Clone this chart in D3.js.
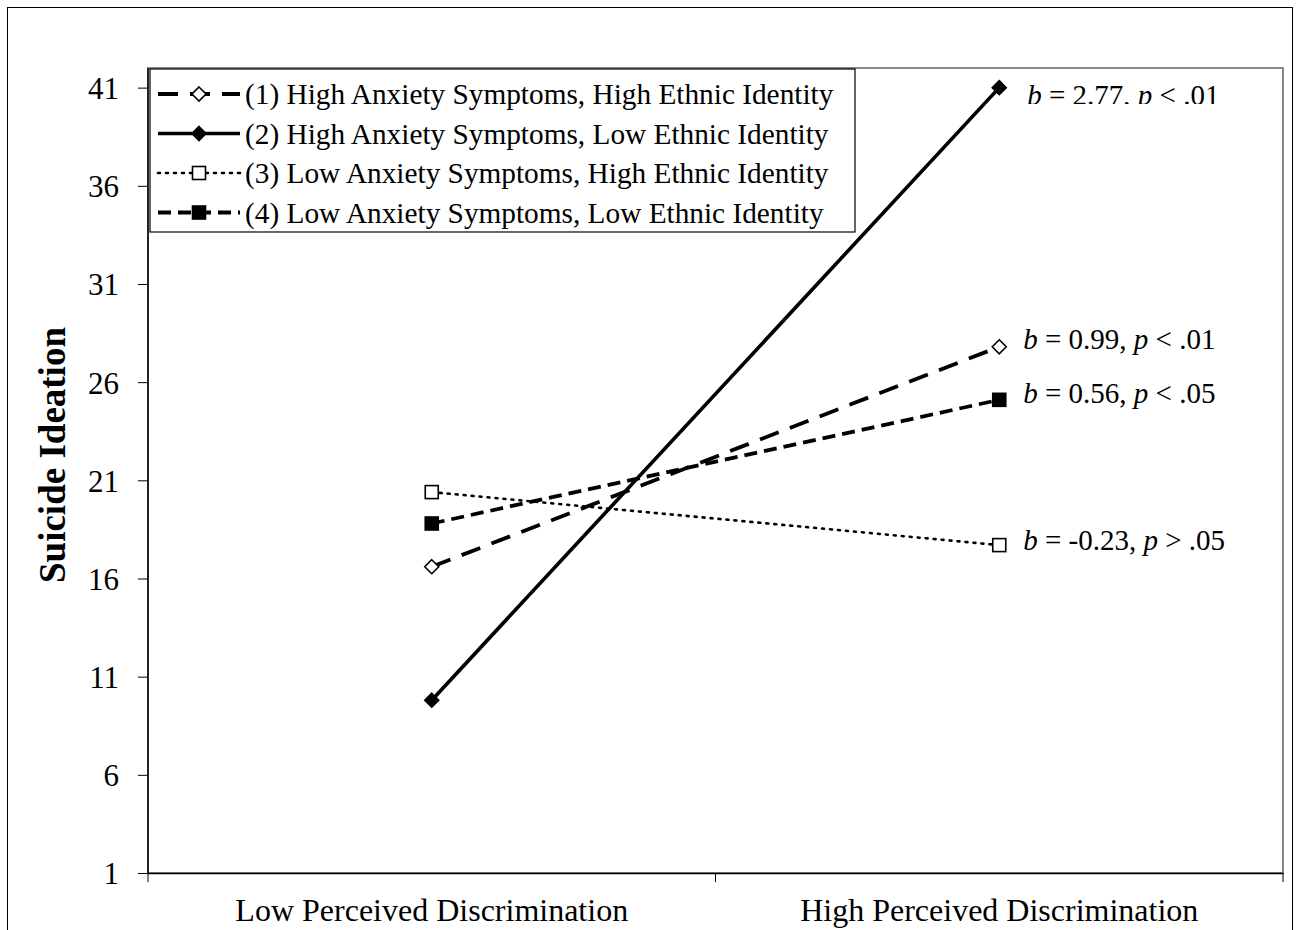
<!DOCTYPE html>
<html>
  <head>
    <meta charset="utf-8">
    <style>
      body { margin: 0; background: #fff; }
      text { font-family: "Liberation Serif", "Times New Roman", serif; fill: #000; }
    </style>
  </head>
  <body>
    <div class="chart"></div>
    <script src="https://cdn.jsdelivr.net/npm/d3@7"></script>
    <script>

var categories = ['Low Perceived Discrimination', 'High Perceived Discrimination'];
var seriesNames = [
  '(1) High Anxiety Symptoms, High Ethnic Identity',
  '(2) High Anxiety Symptoms, Low Ethnic Identity',
  '(3) Low Anxiety Symptoms, High Ethnic Identity',
  '(4) Low Anxiety Symptoms, Low Ethnic Identity'
];
var series1 = [16.6, 27.8];
var series2 = [9.8, 41.0];
var series3 = [20.4, 17.7];
var series4 = [18.8, 25.1];
var slopeLabels = [
  ['0.99', '< .01'],
  ['2.77', '< .01'],
  ['-0.23', '> .05'],
  ['0.56', '< .05']
];
var yTicks = [1, 6, 11, 16, 21, 26, 31, 36, 41];

var width = 1299;
var height = 930;
var margin = { left: 148, top: 68, right: 1283, bottom: 873 };

var styles = [
  { dash: '20,12', width: 3.8, marker: 'diamond', fill: '#fff', labelDy: 2 },
  { dash: null, width: 3.6, marker: 'diamond', fill: '#000', labelDy: 17 },
  { dash: '2,6', width: 2.6, marker: 'square', fill: '#fff', labelDy: 5 },
  { dash: '13,7', width: 3.8, marker: 'square', fill: '#000', labelDy: 3 }
];

var data = [series1, series2, series3, series4].map(function (v, i) {
  return { name: seriesNames[i], values: v, style: styles[i], label: slopeLabels[i] };
});

var x = d3.scaleBand()
    .domain(categories)
    .range([margin.left, margin.right]);

var y = d3.scaleLinear()
    .domain([1, 42])
    .range([margin.bottom, margin.top]);

var svg = d3.select('.chart').append('svg')
    .attr('width', width)
    .attr('height', height);

// outer frame
svg.append('rect')
    .attr('x', 7.5).attr('y', 7.5)
    .attr('width', 1285).attr('height', 940)
    .attr('fill', 'none').attr('stroke', '#000').attr('stroke-width', 1);

// plot area border
svg.append('rect')
    .attr('x', margin.left).attr('y', margin.top)
    .attr('width', margin.right - margin.left).attr('height', margin.bottom - margin.top)
    .attr('fill', 'none').attr('stroke', '#888').attr('stroke-width', 2);

// y axis
var yAxis = svg.append('g')
    .attr('transform', 'translate(' + margin.left + ',0)')
    .call(d3.axisLeft(y).tickValues(yTicks).tickSize(10).tickSizeOuter(0));
yAxis.select('.domain').attr('stroke', '#000').attr('stroke-width', 1.5)
    .attr('d', 'M0,' + margin.top + 'V' + margin.bottom);
yAxis.selectAll('text')
    .attr('x', -29).attr('dy', '0.35em')
    .style('font-family', '"Liberation Serif", serif').style('font-size', '31px');
yAxis.selectAll('.tick line').attr('stroke', '#000');

// x axis
var xAxis = svg.append('g')
    .attr('transform', 'translate(0,' + margin.bottom + ')')
    .call(d3.axisBottom(x).tickSize(0));
xAxis.select('.domain').attr('stroke', '#000').attr('stroke-width', 1.5);
xAxis.selectAll('text')
    .attr('y', 48).attr('dy', 0)
    .style('font-family', '"Liberation Serif", serif').style('font-size', '32px');
xAxis.selectAll('.sep')
    .data([margin.left, x(categories[1]), margin.right])
  .enter().append('line')
    .attr('class', 'sep')
    .attr('x1', function (d) { return d; }).attr('x2', function (d) { return d; })
    .attr('y1', 0).attr('y2', 9)
    .attr('stroke', '#000');

svg.append('text')
    .attr('transform', 'translate(65,455) rotate(-90)')
    .attr('text-anchor', 'middle')
    .style('font-size', '37px').style('font-weight', 'bold')
    .text('Suicide Ideation');

var cx = function (i) { return x(categories[i]) + x.bandwidth() / 2; };

var line = d3.line()
    .x(function (d, i) { return cx(i); })
    .y(function (d) { return y(d); });

function drawMarker(g, style, px, py) {
  if (style.marker === 'diamond') {
    g.append('path')
        .attr('d', 'M' + px + ',' + (py - 7) + 'L' + (px + 7) + ',' + py + 'L' + px + ',' + (py + 7) + 'L' + (px - 7) + ',' + py + 'Z')
        .attr('fill', style.fill).attr('stroke', '#000').attr('stroke-width', 1.6);
  } else {
    g.append('rect')
        .attr('x', px - 6.5).attr('y', py - 6.5).attr('width', 13).attr('height', 13)
        .attr('fill', style.fill).attr('stroke', '#000').attr('stroke-width', 1.6);
  }
}

// the top slope label is cut off just under its baseline
svg.append('clipPath').attr('id', 'topclip')
  .append('rect').attr('x', 0).attr('y', 0).attr('width', width).attr('height', 104);

// series lines
data.forEach(function (s, si) {
  var g = svg.append('g');
  g.append('path')
      .attr('d', line(s.values))
      .attr('fill', 'none').attr('stroke', '#000')
      .attr('stroke-width', s.style.width)
      .attr('stroke-dasharray', s.style.dash)
      .attr('stroke-linecap', s.style.dash === '2,6' ? 'round' : 'butt');
  s.values.forEach(function (v, i) { drawMarker(g, s.style, cx(i), y(v)); });

  var t = g.append('text')
      .attr('x', cx(1) + 24).attr('y', y(s.values[1]) + s.style.labelDy)
      .style('font-size', '29px');
  if (si === 1) t.attr('clip-path', 'url(#topclip)').attr('x', cx(1) + 28);
  t.append('tspan').style('font-style', 'italic').text('b');
  t.append('tspan').text(' = ' + s.label[0] + ', ');
  t.append('tspan').style('font-style', 'italic').text('p');
  t.append('tspan').text(' ' + s.label[1]);
});

// legend
var legend = svg.append('g');
legend.append('rect')
    .attr('x', 150).attr('y', 69).attr('width', 705).attr('height', 163)
    .attr('fill', '#fff').attr('stroke', '#000').attr('stroke-width', 1.2);
data.forEach(function (s, i) {
  var ly = 94 + i * 39.5;
  var lg = legend.append('g');
  lg.append('line')
      .attr('x1', 158).attr('x2', 240).attr('y1', ly).attr('y2', ly)
      .attr('stroke', '#000').attr('stroke-width', s.style.width)
      .attr('stroke-dasharray', s.style.dash)
      .attr('stroke-linecap', s.style.dash === '2,6' ? 'round' : 'butt');
  drawMarker(lg, s.style, 199, ly);
  lg.append('text')
      .attr('x', 245).attr('y', ly + 10)
      .style('font-size', '29.3px')
      .text(s.name);
});

    </script>
  </body>
</html>
